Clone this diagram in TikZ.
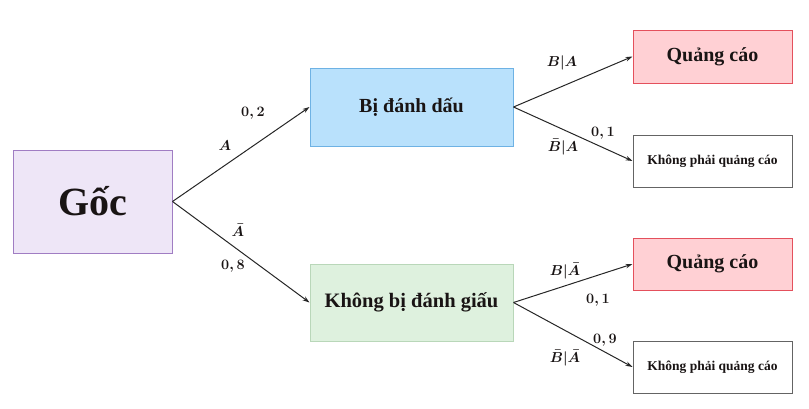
\documentclass[tikz,border=0pt]{standalone}
\usepackage{fontspec}
\setmainfont{Liberation Serif}
\usepackage{amsmath}
\usetikzlibrary{arrows.meta}
\definecolor{rootfill}{RGB}{238,230,247}
\definecolor{rootdraw}{RGB}{160,125,195}
\definecolor{bluefill}{RGB}{185,225,252}
\definecolor{bluedraw}{RGB}{110,178,228}
\definecolor{greenfill}{RGB}{222,241,222}
\definecolor{greendraw}{RGB}{185,215,185}
\definecolor{redfill}{RGB}{255,208,212}
\definecolor{reddraw}{RGB}{228,80,92}
\definecolor{graydraw}{RGB}{100,100,100}
\definecolor{txt}{RGB}{25,20,20}
\begin{document}
\begin{tikzpicture}[x=1pt,y=-1pt,
  box/.style={draw,line width=1pt,inner sep=0pt,text=txt,font=\bfseries},
  conn/.style={-{Stealth[length=7pt,width=4.5pt]},line width=1pt,draw=black!85},
  lab/.style={font=\fontsize{14}{16}\selectfont,text=txt,inner sep=1pt}]
\useasboundingbox (0,0) rectangle (809,408);
\node[box,fill=rootfill,draw=rootdraw,minimum width=159pt,minimum height=103pt,font=\bfseries\fontsize{40}{44}\selectfont] (root) at (92.5,201.5) {Gốc};
\node[box,fill=bluefill,draw=bluedraw,minimum width=203pt,minimum height=78pt,font=\bfseries\fontsize{20}{24}\selectfont] (bi) at (411.5,107) {Bị đánh dấu};
\node[box,fill=greenfill,draw=greendraw,minimum width=203pt,minimum height=77pt,font=\bfseries\fontsize{20.5}{24}\selectfont] (kbi) at (411.5,302.5) {Không bị đánh giấu};
\node[box,fill=redfill,draw=reddraw,minimum width=159pt,minimum height=53pt,font=\bfseries\fontsize{20}{24}\selectfont] (q1) at (712.5,56.5) {Quảng cáo};
\node[box,fill=white,draw=graydraw,minimum width=159pt,minimum height=52pt,font=\bfseries\fontsize{13.5}{16}\selectfont] (k1) at (712.5,161) {Không phải quảng cáo};
\node[box,fill=redfill,draw=reddraw,minimum width=159pt,minimum height=52pt,font=\bfseries\fontsize{20}{24}\selectfont] (q2) at (712.5,264) {Quảng cáo};
\node[box,fill=white,draw=graydraw,minimum width=159pt,minimum height=52pt,font=\bfseries\fontsize{13.5}{16}\selectfont] (k2) at (712.5,367) {Không phải quảng cáo};
\draw[conn] (root.east) -- (bi.west);
\draw[conn] (root.east) -- (kbi.west);
\draw[conn] (bi.east) -- (q1.west);
\draw[conn] (bi.east) -- (k1.west);
\draw[conn] (kbi.east) -- (q2.west);
\draw[conn] (kbi.east) -- (k2.west);
\node[lab] (l1) at (253,113) {$\boldsymbol{0,2}$};
\node[lab] (l2) at (225,146) {$\boldsymbol{A}$};
\node[lab] (l3) at (238,230) {$\boldsymbol{\bar{A}}$};
\node[lab] (l4) at (233,266) {$\boldsymbol{0,8}$};
\node[lab] (l5) at (562,63) {$\boldsymbol{B|A}$};
\node[lab] (l6) at (603,133) {$\boldsymbol{0,1}$};
\node[lab] (l7) at (563,147) {$\boldsymbol{\bar{B}|A}$};
\node[lab] (l8) at (565,271) {$\boldsymbol{B|\bar{A}}$};
\node[lab] (l9) at (598,300) {$\boldsymbol{0,1}$};
\node[lab] (l10) at (605,340) {$\boldsymbol{0,9}$};
\node[lab] (l11) at (565,358) {$\boldsymbol{\bar{B}|\bar{A}}$};
\end{tikzpicture}
\end{document}
